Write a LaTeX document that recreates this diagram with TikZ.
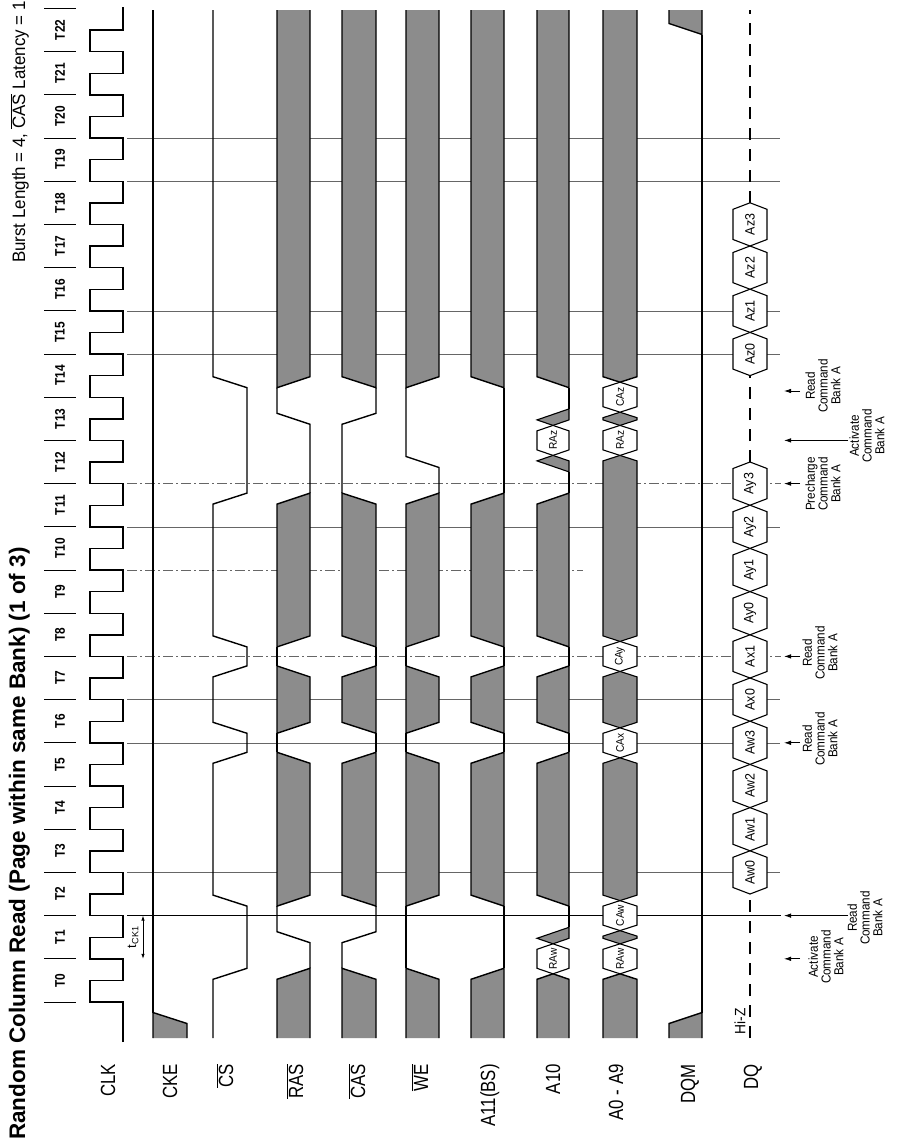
\documentclass[tikz,border=0pt]{standalone}
\usepackage{fontspec}
\setmainfont{Liberation Sans}
\newfontfamily\lblf[FakeStretch=0.82]{Liberation Sans}
\newfontfamily\cmdf[FakeStretch=0.9]{Liberation Sans}
\newfontfamily\tkf[FakeStretch=0.85]{Liberation Sans}
\newfontfamily\hexf[FakeStretch=0.92]{Liberation Sans}
\newfontfamily\burstf[FakeStretch=0.94]{Liberation Sans}
\usetikzlibrary{arrows.meta}
\newcommand\slh{5.5}
% shading between two level windows: xH xL c1 sigma1 c2 sigma2
\newcommand\xsh[6]{\filldraw[shd] (#1,{#3+\slh*(#4)}) -- (#2,{#3-\slh*(#4)}) -- (#2,{#5+\slh*(#6)}) -- (#1,{#5-\slh*(#6)}) -- cycle;}
% bottom shading (flat at 1038) up to crossing c2 with level sigma2
\newcommand\xshb[4]{\fill[shdf] (#1,1038) -- (#2,1038) -- (#2,{#3+\slh*(#4)}) -- (#1,{#3-\slh*(#4)}) -- cycle;
 \draw[sig] (#2,1038) -- (#2,{#3+\slh*(#4)}) -- (#1,{#3-\slh*(#4)}) -- (#1,1038);}
% top shading from crossing c1 with level sigma1 (flat at 10)
\newcommand\xsht[4]{\fill[shdf] (#1,{#3+\slh*(#4)}) -- (#2,{#3-\slh*(#4)}) -- (#2,10) -- (#1,10) -- cycle;
 \draw[sig] (#1,10) -- (#1,{#3+\slh*(#4)}) -- (#2,{#3-\slh*(#4)}) -- (#2,10);}
% bus segment between crossings c1 (lower) and c2 (upper)
\newcommand\bseg[6]{\path[#6] ({(#1+#2)/2},{#3}) -- (#1,{#3-#5}) -- (#1,{#4+#5}) -- ({(#1+#2)/2},{#4}) -- (#2,{#4+#5}) -- (#2,{#3-#5}) -- cycle;}
% DQ hexagon with label
\newcommand\hexl[6]{\bseg{#1}{#2}{#3}{#4}{#5}{hexs}
 \node[hl] (h#1#6) at ({(#1+#2)/2},{(#3+#4)/2}) {#6};}
% address hexagon with (smaller) label
\newcommand\hexa[6]{\bseg{#1}{#2}{#3}{#4}{#5}{hexs}
 \node[hla] (h#1#6) at ({(#1+#2)/2},{(#3+#4)/2}) {#6};}
\newcommand\bbot[4]{\fill[shdf] (#1,1038) -- (#1,{#3+#4}) -- ({(#1+#2)/2},{#3}) -- (#2,{#3+#4}) -- (#2,1038) -- cycle;
 \draw[sig] (#1,1038) -- (#1,{#3+#4}) -- ({(#1+#2)/2},{#3}) -- (#2,{#3+#4}) -- (#2,1038);}
\newcommand\btop[4]{\fill[shdf] (#1,10) -- (#1,{#3-#4}) -- ({(#1+#2)/2},{#3}) -- (#2,{#3-#4}) -- (#2,10) -- cycle;
 \draw[sig] (#1,10) -- (#1,{#3-#4}) -- ({(#1+#2)/2},{#3}) -- (#2,{#3-#4}) -- (#2,10);}
\begin{document}
\begin{tikzpicture}[x=1pt,y=-1pt,
  declare function={tk(\k)=1002-43.2*\k;},
  sig/.style={line width=1.4pt},
  shdf/.style={fill=black!45},
  shd/.style={fill=black!45, draw=black, line width=1.4pt},
  hexs/.style={fill=white, draw=black, line width=1.1pt},
  hexd/.style={fill=black!45, draw=black, line width=1.1pt},
  mk/.style={draw=black!60, line width=0.6pt},
  mkdd/.style={mk, dash pattern=on 10pt off 3pt on 2pt off 3pt},
  hiz/.style={line width=1.2pt, dash pattern=on 12pt off 9pt},
  arr/.style={-{Latex[length=7pt,width=4.5pt]}, line width=0.8pt},
  cmd/.style={rotate=90, align=center, inner sep=0pt, font=\cmdf\fontsize{13}{12.8}\selectfont},
  slbl/.style={rotate=90, anchor=base east, inner sep=0pt, font=\lblf\fontsize{20.5}{20.5}\selectfont},
  tlbl/.style={rotate=90, inner sep=0pt, font=\tkf\bfseries\fontsize{14}{14}\selectfont},
  hl/.style={rotate=90, inner sep=0pt, font=\hexf\fontsize{13.5}{13.5}\selectfont},
  hla/.style={rotate=90, inner sep=0pt, font=\hexf\fontsize{11}{11}\selectfont},
]
\fill[white] (0,0) rectangle (899,1143);
\useasboundingbox (0,0) rectangle (899,1143);

% ---------- time markers ----------
\draw[line width=1.3pt] (127,{tk(2)}) -- (781,{tk(2)});
\foreach \k in {3,6,7,11,15,16,19,20} \draw[mk] (127,{tk(\k)}) -- (780,{tk(\k)});
\foreach \k in {8,12} \draw[mkdd] (127,{tk(\k)}) -- (781,{tk(\k)});
\draw[mkdd] (127,{tk(10)}) -- (583,{tk(10)});

% ---------- clock ticks and labels ----------
\foreach \k in {0,...,23} \draw[line width=1pt] (44,{tk(\k)}) -- (76,{tk(\k)});
\foreach \k in {0,...,22} \node[tlbl] (t\k) at (60,{tk(\k)-21.6}) {T\k};

% ---------- CLK ----------
\draw[sig] (123,1042) \foreach \k in {0,...,22}{ -- (123,{tk(\k)}) -- (90,{tk(\k)}) -- (90,{tk(\k)-21.6}) -- (123,{tk(\k)-21.6}) } -- (123,7);

% tCK1
\draw[{Latex[length=5pt,width=3.5pt]}-{Latex[length=5pt,width=3.5pt]}, line width=0.8pt] (143,{tk(2)}) -- (143,{tk(1)});
\node[rotate=90, inner sep=0pt, font=\fontsize{13}{13}\selectfont] (tck) at (133,{tk(1)-21.6}) {t\textsubscript{CK1}};

% ---------- CKE ----------
\xshb{153}{187}{1018}{1}
\draw[sig] (153,{1018-\slh}) -- (153,10);

% ---------- CS ----------
\draw[sig] (213,1038) -- (213,{tk(1)+15+\slh}) -- (247,{tk(1)+15-\slh}) -- (247,{tk(2)-15+\slh}) -- (213,{tk(2)-15-\slh})
 -- (213,{tk(6)+15+\slh}) -- (247,{tk(6)+15-\slh}) -- (247,{tk(6)-15+\slh}) -- (213,{tk(6)-15-\slh})
 -- (213,{tk(8)+15+\slh}) -- (247,{tk(8)+15-\slh}) -- (247,{tk(8)-15+\slh}) -- (213,{tk(8)-15-\slh})
 -- (213,{tk(12)+15+\slh}) -- (247,{tk(12)+15-\slh}) -- (247,{tk(14)-15+\slh}) -- (213,{tk(14)-15-\slh}) -- (213,10);

% ---------- RAS ----------
\xshb{277}{310}{tk(1)+15}{-1}
\xsh{277}{310}{tk(2)-15}{1}{tk(6)+15}{1}
\xsh{277}{310}{tk(6)-15}{1}{tk(8)+15}{1}
\xsh{277}{310}{tk(8)-15}{1}{tk(12)+15}{-1}
\xsht{277}{310}{tk(14)-15}{1}
\draw[sig] (310,{tk(1)+15-\slh}) -- (310,{tk(1)-21.6+\slh}) -- (277,{tk(1)-21.6-\slh}) -- (277,{tk(2)-15+\slh});
\draw[sig] (277,{tk(6)+15-\slh}) -- (277,{tk(6)-15+\slh});
\draw[sig] (277,{tk(8)+15-\slh}) -- (277,{tk(8)-15+\slh});
\draw[sig] (310,{tk(12)+15-\slh}) -- (310,{tk(13)-21.6+\slh}) -- (277,{tk(13)-21.6-\slh}) -- (277,{tk(14)-15+\slh});

% ---------- CAS ----------
\xshb{342}{376}{tk(1)+15}{1}
\xsh{342}{376}{tk(2)-15}{-1}{tk(6)+15}{-1}
\xsh{342}{376}{tk(6)-15}{-1}{tk(8)+15}{-1}
\xsh{342}{376}{tk(8)-15}{-1}{tk(12)+15}{1}
\xsht{342}{376}{tk(14)-15}{-1}
\draw[sig] (342,{tk(1)+15-\slh}) -- (342,{tk(1)-21.6+\slh}) -- (376,{tk(1)-21.6-\slh}) -- (376,{tk(2)-15+\slh});
\draw[sig] (376,{tk(6)+15-\slh}) -- (376,{tk(6)-15+\slh});
\draw[sig] (376,{tk(8)+15-\slh}) -- (376,{tk(8)-15+\slh});
\draw[sig] (342,{tk(12)+15-\slh}) -- (342,{tk(13)-21.6+\slh}) -- (376,{tk(13)-21.6-\slh}) -- (376,{tk(14)-15+\slh});

% ---------- WE ----------
\xshb{406}{439}{tk(1)+15}{1}
\xsh{406}{439}{tk(2)-15}{1}{tk(6)+15}{1}
\xsh{406}{439}{tk(6)-15}{1}{tk(8)+15}{1}
\xsh{406}{439}{tk(8)-15}{1}{tk(12)+15}{-1}
\xsht{406}{439}{tk(14)-15}{1}
\draw[sig] (406,{tk(1)+15-\slh}) -- (406,{tk(2)-15+\slh});
\draw[sig] (406,{tk(6)+15-\slh}) -- (406,{tk(6)-15+\slh});
\draw[sig] (406,{tk(8)+15-\slh}) -- (406,{tk(8)-15+\slh});
\draw[sig] (439,{tk(12)+15-\slh}) -- (439,{tk(12)-21.6+\slh}) -- (406,{tk(12)-21.6-\slh}) -- (406,{tk(14)-15+\slh});

% ---------- A11(BS) ----------
\xshb{471}{504}{tk(1)+15}{-1}
\xsh{471}{504}{tk(2)-15}{-1}{tk(6)+15}{-1}
\xsh{471}{504}{tk(6)-15}{-1}{tk(8)+15}{-1}
\xsh{471}{504}{tk(8)-15}{-1}{tk(12)+15}{-1}
\xsht{471}{504}{tk(14)-15}{-1}
\draw[sig] (504,{tk(1)+15-\slh}) -- (504,{tk(2)-15+\slh});
\draw[sig] (504,{tk(6)+15-\slh}) -- (504,{tk(6)-15+\slh});
\draw[sig] (504,{tk(8)+15-\slh}) -- (504,{tk(8)-15+\slh});
\draw[sig] (504,{tk(12)+15-\slh}) -- (504,{tk(14)-15+\slh});

% ---------- A10 ----------
\bbot{537}{569}{tk(1)+15}{\slh}
\hexa{537}{569}{tk(1)+15}{tk(1)-15}{\slh}{RAw}
\filldraw[hexd] (553,{tk(1)-15}) -- (537,{tk(1)-15-\slh}) -- (569,{tk(1)-15-3*\slh}) -- (569,{tk(1)-15-\slh}) -- cycle;
\draw[sig] (569,{tk(1)-15-3*\slh}) -- (569,{tk(2)-15+\slh});
\xsh{537}{569}{tk(2)-15}{-1}{tk(6)+15}{-1}
\draw[sig] (569,{tk(6)+15-\slh}) -- (569,{tk(6)-15+\slh});
\xsh{537}{569}{tk(6)-15}{-1}{tk(8)+15}{-1}
\draw[sig] (569,{tk(8)+15-\slh}) -- (569,{tk(8)-15+\slh});
\xsh{537}{569}{tk(8)-15}{-1}{tk(12)+15}{-1}
\draw[sig] (569,{tk(12)+15-\slh}) -- (569,{tk(13)+15+3*\slh});
\filldraw[hexd] (569,{tk(13)+15+3*\slh}) -- (537,{tk(13)+15+\slh}) -- (553,{tk(13)+15}) -- (569,{tk(13)+15+\slh}) -- cycle;
\hexa{537}{569}{tk(13)+15}{tk(13)-15}{\slh}{RAz}
\filldraw[hexd] (553,{tk(13)-15}) -- (537,{tk(13)-15-\slh}) -- (569,{tk(13)-15-3*\slh}) -- (569,{tk(13)-15-\slh}) -- cycle;
\draw[sig] (569,{tk(13)-15-3*\slh}) -- (569,{tk(14)-15+\slh});
\xsht{537}{569}{tk(14)-15}{-1}

% ---------- A0 - A9 ----------
\bbot{603}{637}{tk(1)+15}{\slh}
\hexa{603}{637}{tk(1)+15}{tk(1)-15}{\slh}{RAw}
\bseg{603}{637}{tk(1)-15}{tk(2)+15}{\slh}{hexd}
\hexa{603}{637}{tk(2)+15}{tk(2)-15}{\slh}{CAw}
\bseg{603}{637}{tk(2)-15}{tk(6)+15}{\slh}{hexd}
\hexa{603}{637}{tk(6)+15}{tk(6)-15}{\slh}{CAx}
\bseg{603}{637}{tk(6)-15}{tk(8)+15}{\slh}{hexd}
\hexa{603}{637}{tk(8)+15}{tk(8)-15}{\slh}{CAy}
\bseg{603}{637}{tk(8)-15}{tk(13)+15}{\slh}{hexd}
\hexa{603}{637}{tk(13)+15}{tk(13)-15}{\slh}{RAz}
\bseg{603}{637}{tk(13)-15}{tk(14)+15}{\slh}{hexd}
\hexa{603}{637}{tk(14)+15}{tk(14)-15}{\slh}{CAz}
\btop{603}{637}{tk(14)-15}{\slh}

% ---------- DQM ----------
\xshb{669}{702}{1018}{-1}
\draw[sig] (702,{1018-\slh}) -- (702,{29+\slh});
\xsht{669}{702}{29}{-1}

% ---------- DQ ----------
\draw[hiz] (750,1038) -- (750,{tk(3)+21.6});
\draw[hiz] (750,{tk(12)-21.6}) -- (750,{tk(15)+21.6});
\draw[hiz] (750,{tk(18)-21.6}) -- (750,10);
\foreach \k/\l in {3/Aw0,4/Aw1,5/Aw2,6/Aw3,7/Ax0,8/Ax1,9/Ay0,10/Ay1,11/Ay2,12/Ay3,15/Az0,16/Az1,17/Az2,18/Az3}{
  \hexl{733}{767}{tk(\k)+21.6}{tk(\k)-21.6}{6.5}{\l}
}
\node[rotate=90, inner sep=0pt, font=\hexf\fontsize{15}{15}\selectfont] (hiz) at (740,1021) {Hi-Z};

% ---------- signal names ----------
\node[slbl] (nCLK) at (115,1064) {CLK};
\node[slbl] (nCKE) at (177,1064) {CKE};
\node[slbl] (nCS) at (233,1064) {$\overline{\hbox{\lblf\fontsize{20.5}{20.5}\selectfont CS}}$};
\node[slbl] (nRAS) at (303,1064) {$\overline{\hbox{\lblf\fontsize{20.5}{20.5}\selectfont RAS}}$};
\node[slbl] (nCAS) at (365,1064) {$\overline{\hbox{\lblf\fontsize{20.5}{20.5}\selectfont CAS}}$};
\node[slbl] (nWE) at (428,1064) {$\overline{\hbox{\lblf\fontsize{20.5}{20.5}\selectfont WE}}$};
\node[slbl] (nA11) at (495,1064) {A11(BS)};
\node[slbl] (nA10) at (560,1064) {A10};
\node[slbl] (nA0) at (623,1064) {A0 - A9};
\node[slbl] (nDQM) at (695,1064) {DQM};
\node[slbl] (nDQ) at (758,1064) {DQ};

% ---------- title and note ----------
\node[rotate=90, anchor=base west, inner sep=0pt, font=\bfseries\fontsize{22.5}{22.5}\selectfont] (title) at (25,1140) {Random Column Read (Page within same Bank) (1 of 3)};
\node[rotate=90, anchor=base west, inner sep=0pt, font=\burstf\fontsize{18}{18}\selectfont] (burst) at (25,263) {Burst Length = 4, $\overline{\hbox{\burstf\fontsize{18}{18}\selectfont CAS}}$ Latency = 1};

% ---------- command arrows ----------
\coordinate (a1t) at (784,{tk(1)});  \coordinate (a1s) at (800,{tk(1)});
\coordinate (a2t) at (784,{tk(2)});  \coordinate (a2s) at (848,{tk(2)});
\coordinate (a6t) at (784,{tk(6)});  \coordinate (a6s) at (800,{tk(6)});
\coordinate (a8t) at (784,{tk(8)});  \coordinate (a8s) at (800,{tk(8)});
\coordinate (a12t) at (784,{tk(12)}); \coordinate (a12s) at (800,{tk(12)});
\coordinate (a13t) at (784,{tk(13)}); \coordinate (a13s) at (848,{tk(13)});
\coordinate (a14t) at (784,391);      \coordinate (a14s) at (800,391);
\foreach \n in {1,2,6,8,12,13,14} \draw[arr] (a\n s) -- (a\n t);
\node[cmd] (c1) at (826,957) {Activate\\Command\\Bank A};
\node[cmd] (c2) at (865,918) {Read\\Command\\Bank A};
\node[cmd] (c6) at (820,739) {Read\\Command\\Bank A};
\node[cmd] (c8) at (820,653) {Read\\Command\\Bank A};
\node[cmd] (c12) at (823,484) {Precharge\\Command\\Bank A};
\node[cmd] (c13) at (867,436) {Activate\\Command\\Bank A};
\node[cmd] (c14) at (823,386) {Read\\Command\\Bank A};
\end{tikzpicture}
\end{document}
